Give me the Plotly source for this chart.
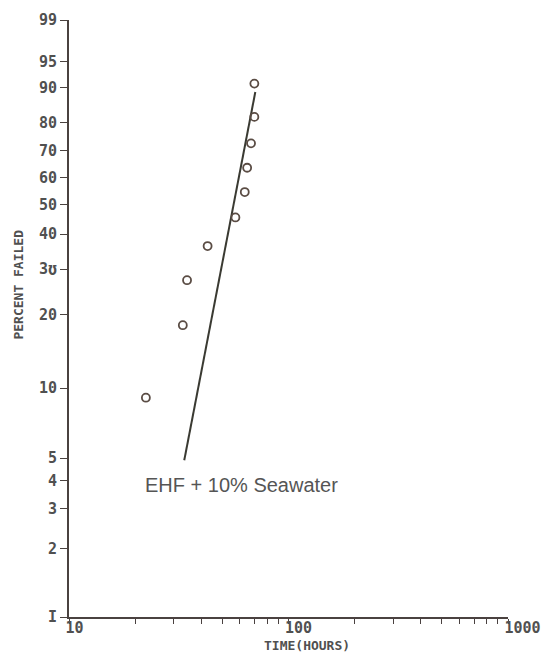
import numpy as np
import plotly.graph_objects as go

# ---- data ----
time_hours = [22.4, 33.0, 34.5, 42.8, 57.3, 63.2, 64.8, 67.5, 69.9, 69.9]
percent_failed = [9.1, 18.2, 27.3, 36.4, 45.5, 54.5, 63.6, 72.7, 81.8, 90.9]

fit_time = [33.5, 70.6]
fit_percent = [4.9, 88.9]

y_tick_percent = [1, 2, 3, 4, 5, 10, 20, 30, 40, 50, 60, 70, 80, 90, 95, 99]
y_tick_text = ["I", "2", "3", "4", "5", "10", "20", "3\u028a", "40", "50", "60", "70", "80", "90", "95", "99"]

x_tick_vals = [10, 20, 30, 40, 50, 60, 70, 80, 90,
               100, 200, 300, 400, 500, 600, 700, 800, 900, 1000]
x_major_labels = {10: "10", 100: "100", 1000: "1000"}

label_text = "EHF + 10% Seawater"
x_title = "TIME(HOURS)"
y_title = "PERCENT FAILED"


def weibull(p_percent):
    p = np.asarray(p_percent, dtype=float) / 100.0
    return np.log(-np.log(1.0 - p))


x_tick_text = [x_major_labels.get(v, "") for v in x_tick_vals]

ink = "#4a4240"
mono = "DejaVu Sans Mono"

fig = go.Figure()
fig.add_trace(go.Scatter(
    x=fit_time, y=weibull(fit_percent), mode="lines",
    line=dict(color="#3a3a32", width=2), showlegend=False, hoverinfo="skip"))
fig.add_trace(go.Scatter(
    x=time_hours, y=weibull(percent_failed), mode="markers",
    marker=dict(symbol="circle-open", size=8, color="#5a4c44",
                line=dict(width=1.8, color="#5a4c44")),
    showlegend=False))

fig.update_layout(
    width=554, height=660,
    margin=dict(l=69, r=46, t=20, b=43, autoexpand=False),
    paper_bgcolor="white", plot_bgcolor="white",
    xaxis=dict(
        type="log", range=[1, 3], automargin=False,
        tickmode="array", tickvals=x_tick_vals, ticktext=x_tick_text,
        ticks="outside", ticklen=5, tickwidth=1, tickcolor=ink,
        showline=True, linecolor=ink, linewidth=2,
        showgrid=False, zeroline=False,
        ticklabelposition="outside right",
        ticklabelshift=-5, ticklabelstandoff=-4,
        tickfont=dict(family=mono, size=15, color="#505050", weight="bold"),
    ),
    yaxis=dict(
        range=[float(weibull(1)), float(weibull(99))], automargin=False,
        tickmode="array", tickvals=weibull(y_tick_percent).tolist(),
        ticktext=y_tick_text,
        ticks="outside", ticklen=7, tickwidth=1, tickcolor=ink,
        showline=True, linecolor=ink, linewidth=2,
        showgrid=False, zeroline=False,
        ticklabelstandoff=0,
        tickfont=dict(family=mono, size=15, color="#505050", weight="bold"),
    ),
    annotations=[
        dict(text=label_text, xref="paper", yref="paper", x=0.168, y=0.221,
             xanchor="left", yanchor="middle", showarrow=False,
             font=dict(family="Liberation Sans", size=20, color="#555555")),
        dict(text=x_title, xref="paper", yref="paper", x=0.542, y=-0.047,
             xanchor="center", yanchor="middle", showarrow=False,
             font=dict(family=mono, size=13, color="#505050", weight="bold")),
        dict(text=y_title, xref="paper", yref="paper", x=-0.115, y=0.556,
             xanchor="center", yanchor="middle", showarrow=False, textangle=-90,
             font=dict(family=mono, size=13, color="#505050", weight="bold")),
    ],
)

fig.write_html(
    "out.html",
    config={"displayModeBar": False},
    post_script="document.body.style.margin='0';document.body.style.overflow='hidden';",
)
